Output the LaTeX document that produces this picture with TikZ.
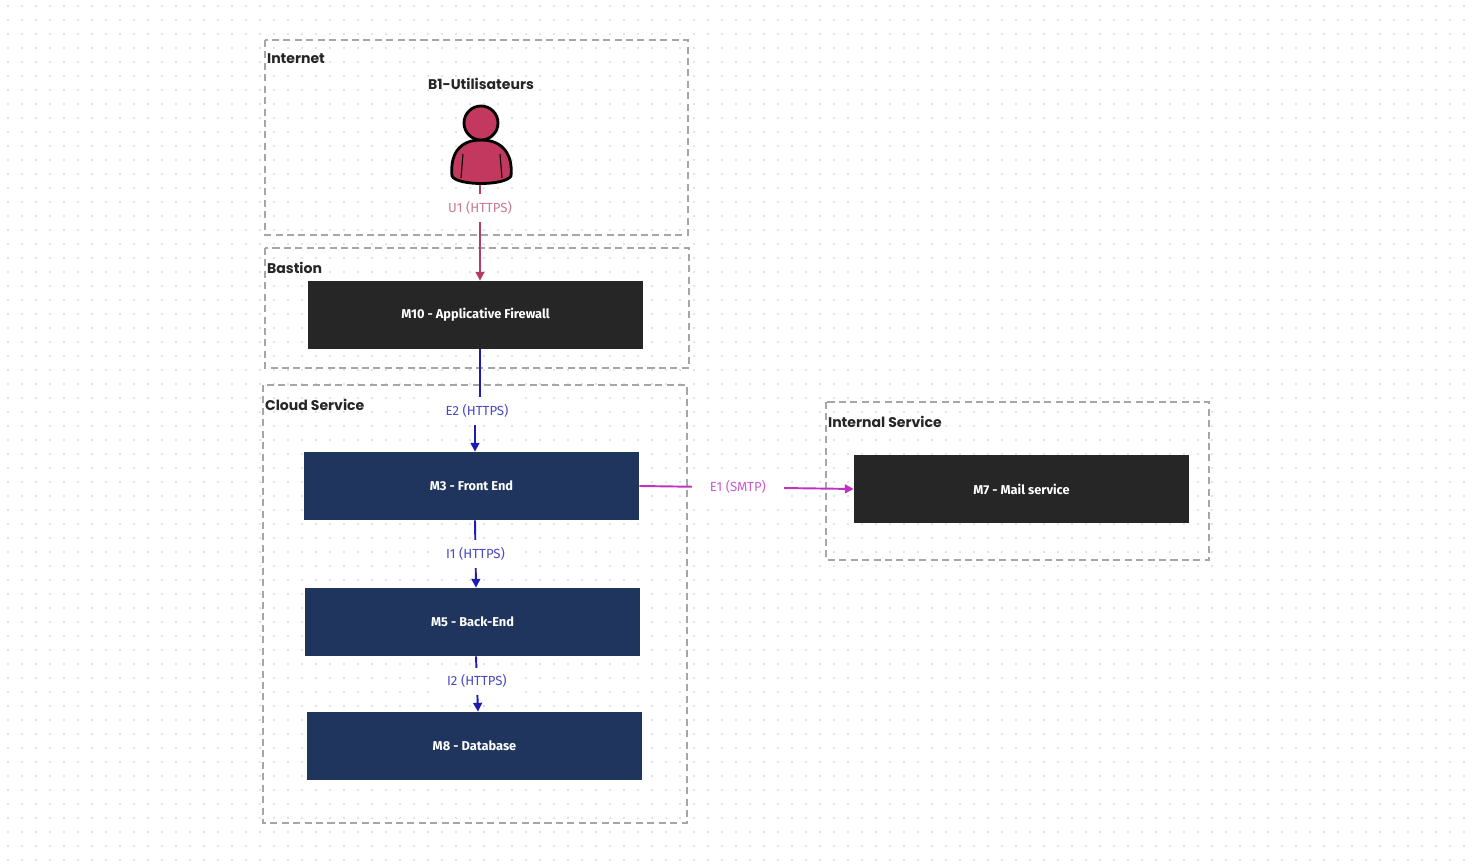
\documentclass[tikz,border=0pt]{standalone}
\usepackage{fontspec}
\setmainfont{Fira Sans}
\newfontfamily\titlefont{Poppins}
\usetikzlibrary{arrows.meta,positioning}
\definecolor{darkbox}{HTML}{262626}
\definecolor{navybox}{HTML}{1F355E}
\definecolor{flowblue}{HTML}{1C1CB4}
\definecolor{flowpink}{HTML}{B23E68}
\definecolor{flowmag}{HTML}{C232C2}
\definecolor{userfill}{HTML}{C2385F}
\tikzset{
  zone/.style={draw=gray!70, dashed, dash pattern=on 4pt off 2.5pt, line width=1pt},
  zonetitle/.style={anchor=north west, inner sep=1pt, font=\titlefont\bfseries\fontsize{8}{10}\selectfont, text=black!85},
  comp/.style={minimum width=335*0.02cm, minimum height=68*0.02cm, inner sep=0pt,
    text=white, font=\bfseries\fontsize{7.3}{8}\selectfont},
  flow/.style={line width=1.1pt, -{Triangle[length=5pt,width=5pt]}},
  flowlabel/.style={fill=white, inner xsep=5pt, inner ysep=4pt, font=\fontsize{7.5}{9}\selectfont},
}
\begin{document}
\begin{tikzpicture}[x=0.02cm, y=-0.02cm]
  \useasboundingbox (0,0) rectangle (1472,864);
  % dotted background
  \foreach \i in {0,...,105} {
    \foreach \j in {0,...,61} {
      \fill[gray!45] (8+\i*14, 6+\j*14) circle (0.5pt);
    }
  }
  % zones
  \draw[zone] (265,40) rectangle (688,235);
  \node[zonetitle] at (265,52) {Internet};
  \draw[zone] (265,248) rectangle (689,368);
  \node[zonetitle] at (265,260) {Bastion};
  \draw[zone] (263,385) rectangle (687,823);
  \node[zonetitle] at (263,397) {Cloud Service};
  \draw[zone] (826,402) rectangle (1209,560);
  \node[zonetitle] at (826,414) {Internal Service};
  % components
  \node[comp, fill=darkbox] (m10) at (475.5,315) {M10 - Applicative Firewall};
  \node[comp, fill=navybox] (m3) at (471.5,486) {M3 - Front End};
  \node[comp, fill=navybox] (m5) at (472.5,622) {M5 - Back-End};
  \node[comp, fill=navybox] (m8) at (474.5,746) {M8 - Database};
  \node[comp, fill=darkbox] (m7) at (1021.5,489) {M7 - Mail service};
  % user
  \node[font=\titlefont\bfseries\fontsize{8}{10}\selectfont, text=black!85] (b1) at (481,84) {B1-Utilisateurs};
  \coordinate (user) at (480,185);
  \filldraw[fill=userfill, draw=black, line width=1.6pt]
    (452,176) .. controls (450,156) and (458,140) .. (481,140)
    .. controls (504,140) and (513,156) .. (511,176)
    .. controls (505,186) and (457,186) .. (452,176) -- cycle;
  \draw[black, line width=0.6pt] (463,154) -- (461,178) (500,154) -- (502,178);
  \filldraw[fill=userfill, draw=black, line width=1.6pt] (481,123) circle (17);
  % flows
  \draw[flow, flowpink] (user) -- (m10.north -| user)
    node[flowlabel, pos=0.24, text=flowpink!70] {U1 (HTTPS)};
  \coordinate (e2) at (477,411);
  \draw[flow, flowblue] (m10.south -| user) |- (e2) -| (m3.north -| 475,0);
  \node[flowlabel, text=flowblue!80] at (e2) {E2 (HTTPS)};
  \draw[flow, flowblue] (m3.south -| 475,0) -- (m5.north -| 476,0)
    node[flowlabel, midway, text=flowblue!80] {I1 (HTTPS)};
  \draw[flow, flowblue] (m5.south -| 476,0) -- (m8.north -| 478,0)
    node[flowlabel, pos=0.45, text=flowblue!80] {I2 (HTTPS)};
  \draw[flow, flowmag] (m3.east) -- (m7.west)
    node[flowlabel, pos=0.46, inner xsep=10pt, text=flowmag!80] {E1 (SMTP)};
\end{tikzpicture}
\end{document}
